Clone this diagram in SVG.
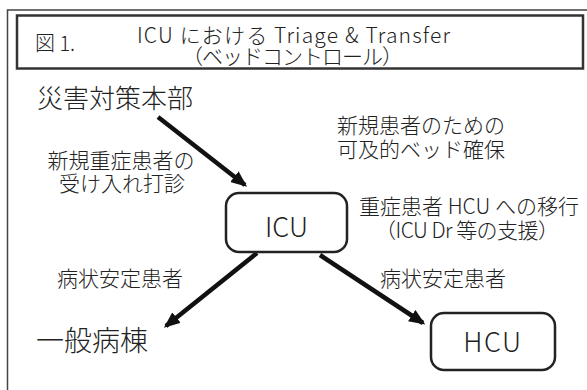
<svg xmlns="http://www.w3.org/2000/svg" width="587" height="390" viewBox="0 0 587 390">
<defs>
<style>
text{font-family:"Noto Sans CJK JP","Noto Sans",sans-serif;fill:#222;font-weight:300;}
.t{font-size:21px;}
.lbl{font-size:21px;}
.node{fill:#fff;stroke:#222;stroke-width:2.5;}
.conn{stroke:#111;stroke-width:4.5;fill:none;marker-end:url(#ah);}
</style>
<marker id="ah" viewBox="0 0 12 10" refX="10" refY="5" markerWidth="3.6" markerHeight="3" orient="auto" markerUnits="strokeWidth">
<path d="M0,0 L12,5 L0,10 Z" fill="#111"/>
</marker>
</defs>
<rect width="587" height="390" fill="#fff"/>
<rect x="7.5" y="10" width="600" height="400" fill="none" stroke="#444" stroke-width="1.5"/>
<g id="title">
<rect x="17" y="15.5" width="566" height="53" fill="none" stroke="#333" stroke-width="2.5"/>
<text x="35" y="51" font-size="20">図 1.</text>
<text class="t" x="137" y="43" textLength="313" lengthAdjust="spacing">ICU における Triage &amp; Transfer</text>
<text class="t" x="182" y="64" textLength="221" lengthAdjust="spacing">（ベッドコントロール）</text>
</g>
<g id="connectors">
<line class="conn" x1="158" y1="117" x2="245" y2="185"/>
<line class="conn" x1="257" y1="253" x2="166" y2="326"/>
<line class="conn" x1="320" y1="255" x2="423" y2="323"/>
</g>
<g id="saigai"><text x="37" y="108" font-size="26">災害対策本部</text></g>
<g id="icu">
<rect class="node" x="226" y="193" width="121" height="59" rx="13"/>
<text x="286.5" y="237" font-size="27" text-anchor="middle">ICU</text>
</g>
<g id="hcu">
<rect class="node" x="431" y="313" width="124" height="57" rx="13"/>
<text x="493" y="352" font-size="27" letter-spacing="1.5" text-anchor="middle">HCU</text>
</g>
<g id="ippan"><text x="36" y="351" font-size="28">一般病棟</text></g>
<g id="labels">
<text class="lbl" x="121" y="168" text-anchor="middle">新規重症患者の</text>
<text class="lbl" x="122" y="191" text-anchor="middle">受け入れ打診</text>
<text class="lbl" x="421" y="133" text-anchor="middle">新規患者のための</text>
<text class="lbl" x="421" y="157" text-anchor="middle">可及的ベッド確保</text>
<text class="lbl" x="469" y="214" text-anchor="middle">重症患者 HCU への移行</text>
<text class="lbl" x="375" y="238" textLength="184" lengthAdjust="spacing">（ICU Dr 等の支援）</text>
<text class="lbl" x="120" y="286" text-anchor="middle">病状安定患者</text>
<text class="lbl" x="443" y="286" text-anchor="middle">病状安定患者</text>
</g>
</svg>
